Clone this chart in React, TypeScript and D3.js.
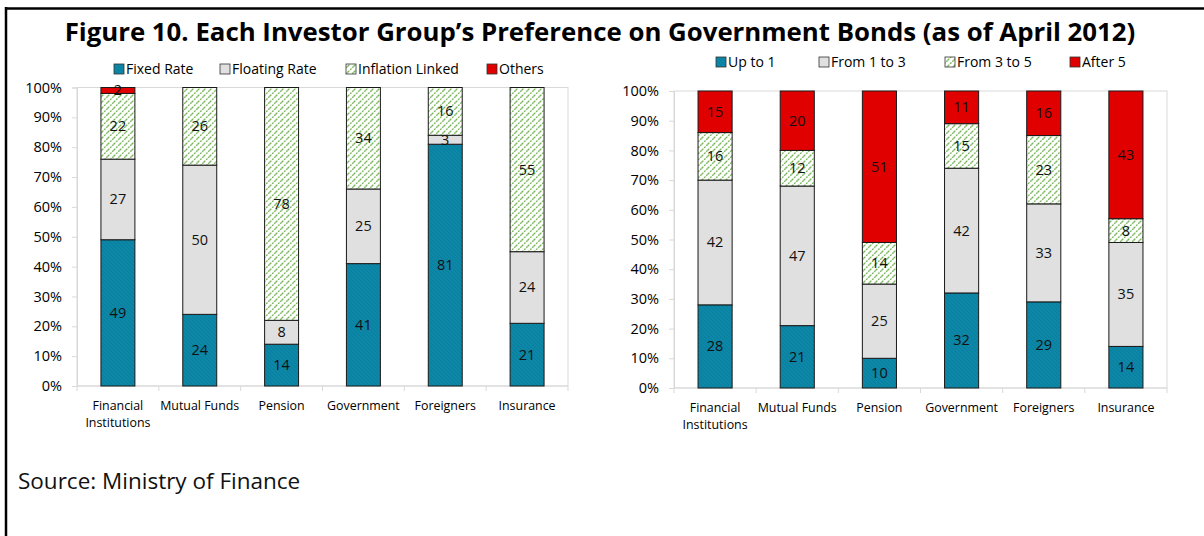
import React from 'react';
import * as d3 from 'd3';

const categories = ['Financial Institutions', 'Mutual Funds', 'Pension', 'Government', 'Foreigners', 'Insurance'];

// left chart: by rate type
const rateKeys = ['Fixed Rate', 'Floating Rate', 'Inflation Linked', 'Others'];
const fixedRate = [49, 24, 14, 41, 81, 21];
const floatingRate = [27, 50, 8, 25, 3, 24];
const inflationLinked = [22, 26, 78, 34, 16, 55];
const others = [2, 0, 0, 0, 0, 0];

// right chart: by tenor
const tenorKeys = ['Up to 1', 'From 1 to 3', 'From 3 to 5', 'After 5'];
const upTo1 = [28, 21, 10, 32, 29, 14];
const from1to3 = [42, 47, 25, 42, 33, 35];
const from3to5 = [16, 12, 14, 15, 23, 8];
const after5 = [15, 20, 51, 11, 16, 43];

const yTicks = [0, 10, 20, 30, 40, 50, 60, 70, 80, 90, 100];

const FONT = "'Open Sans', 'Noto Sans', sans-serif";
const fills = ['url(#pFixed)', '#E0E0E0', 'url(#pInfl)', '#E00000'];

const App = () => {
  const svgRef = React.useRef(null);

  React.useEffect(() => {
    const svg = d3.select(svgRef.current);
    svg.selectAll('*').remove();

    const defs = svg.append('defs');
    const pf = defs.append('pattern').attr('id', 'pFixed').attr('patternUnits', 'userSpaceOnUse')
      .attr('width', 4).attr('height', 4);
    pf.append('rect').attr('width', 4).attr('height', 4).attr('fill', '#0C87A7');
    pf.append('path').attr('d', 'M0,0 L4,4 M-1,3 L1,5 M3,-1 L5,1').attr('stroke', '#0A7A98').attr('stroke-width', 0.7);
    const pi = defs.append('pattern').attr('id', 'pInfl').attr('patternUnits', 'userSpaceOnUse')
      .attr('width', 6).attr('height', 6);
    pi.append('rect').attr('width', 6).attr('height', 6).attr('fill', '#fff');
    pi.append('path').attr('d', 'M0,6 L6,0 M-3,3 L3,-3 M3,9 L9,3').attr('stroke', '#79B65C')
      .attr('stroke-width', 1.3).attr('stroke-dasharray', '2,1');

    // frame
    svg.append('line').attr('x1', 6).attr('x2', 1204).attr('y1', 8.5).attr('y2', 8.5).attr('stroke', '#000').attr('stroke-width', 2.5);
    svg.append('line').attr('x1', 6).attr('x2', 6).attr('y1', 7).attr('y2', 536).attr('stroke', '#000').attr('stroke-width', 2.5);

    svg.append('text').attr('x', 600).attr('y', 41).attr('text-anchor', 'middle')
      .style('font-family', FONT).style('font-weight', 'bold').style('font-size', '25.8px')
      .text('Figure 10. Each Investor Group\u2019s Preference on Government Bonds (as of April 2012)');

    svg.append('text').attr('x', 18).attr('y', 489)
      .style('font-family', FONT).style('font-size', '22.5px').attr('fill', '#111')
      .text('Source: Ministry of Finance');

    const drawChart = (cfg) => {
      const g = svg.append('g');
      const x = d3.scaleBand().domain(categories).range([cfg.left, cfg.right])
        .paddingInner(0.585).paddingOuter(0.2925);
      const y = d3.scaleLinear().domain([0, 100]).range([cfg.bottom, cfg.top]).clamp(true);

      const rows = categories.map((c, i) => {
        const r = { cat: c };
        cfg.keys.forEach((k, j) => { r[k] = cfg.series[j][i]; });
        return r;
      });
      const stacked = d3.stack().keys(cfg.keys)(rows);

      // plot area border
      g.append('rect').attr('x', cfg.left).attr('y', cfg.top)
        .attr('width', cfg.right - cfg.left).attr('height', cfg.bottom - cfg.top)
        .attr('fill', 'none').attr('stroke', '#D9D9D9').attr('stroke-width', 1);

      // y axis
      const ya = g.append('g').attr('transform', `translate(${cfg.left},0)`)
        .call(d3.axisLeft(y).tickValues(yTicks).tickSize(5).tickPadding(10).tickFormat(d => d + '%'));
      ya.selectAll('path, line').attr('stroke', '#D9D9D9');
      ya.selectAll('text').style('font-family', FONT).style('font-size', '14.5px').attr('fill', '#000');

      // x axis
      const step = x.step();
      g.append('line').attr('x1', cfg.left).attr('x2', cfg.right).attr('y1', cfg.bottom).attr('y2', cfg.bottom)
        .attr('stroke', '#D9D9D9');
      g.selectAll('.xt').data(d3.range(categories.length + 1)).join('line')
        .attr('x1', i => cfg.left + i * step).attr('x2', i => cfg.left + i * step)
        .attr('y1', cfg.bottom).attr('y2', cfg.bottom + 5).attr('stroke', '#D9D9D9');

      const lab = g.selectAll('.xl').data(categories).join('text')
        .attr('text-anchor', 'middle')
        .style('font-family', FONT).style('font-size', '12.4px').attr('fill', '#000');
      lab.each(function (d) {
        const words = d === 'Financial Institutions' ? ['Financial', 'Institutions'] : [d];
        const t = d3.select(this);
        words.forEach((w, k) => {
          t.append('tspan').attr('x', x(d) + x.bandwidth() / 2).attr('y', cfg.bottom + 24 + k * 17).text(w);
        });
      });

      // bars
      stacked.forEach((s, j) => {
        g.selectAll(null).data(s.filter(d => d[1] - d[0] > 0)).join('rect')
          .attr('x', d => x(d.data.cat))
          .attr('width', x.bandwidth())
          .attr('y', d => y(d[1]))
          .attr('height', d => y(d[0]) - y(d[1]))
          .attr('fill', fills[j])
          .attr('stroke', '#1a1a1a').attr('stroke-width', 1);
      });
      stacked.forEach((s) => {
        g.selectAll(null).data(s.filter(d => d[1] - d[0] > 0)).join('text')
          .attr('x', d => x(d.data.cat) + x.bandwidth() / 2)
          .attr('y', d => (y(d[0]) + y(d[1])) / 2 + 5)
          .attr('text-anchor', 'middle')
          .style('font-family', FONT).style('font-size', '14.5px').attr('fill', '#111')
          .text(d => d[1] - d[0]);
      });

      // legend
      cfg.keys.forEach((k, j) => {
        const lx = cfg.legendX[j];
        g.append('rect').attr('x', lx).attr('y', cfg.legendY - 5).attr('width', 10).attr('height', 10)
          .attr('fill', fills[j]).attr('stroke', '#333').attr('stroke-width', 0.8);
        g.append('text').attr('x', lx + 12).attr('y', cfg.legendY + 5)
          .style('font-family', FONT).style('font-size', '14px').attr('fill', '#000').text(k);
      });
    };

    drawChart({
      left: 77, right: 568, top: 87.5, bottom: 386,
      keys: rateKeys, series: [fixedRate, floatingRate, inflationLinked, others],
      legendX: [114, 220, 346, 487], legendY: 69,
    });
    drawChart({
      left: 674, right: 1167, top: 91, bottom: 388,
      keys: tenorKeys, series: [upTo1, from1to3, from3to5, after5],
      legendX: [716, 819, 945, 1070], legendY: 62,
    });
  }, []);

  return (
    <div style={{ position: 'absolute', left: 0, top: 0, width: 1204, height: 536, background: '#fff' }}>
      <svg ref={svgRef} width={1204} height={536} style={{ display: 'block' }} />
    </div>
  );
};

export default App;
